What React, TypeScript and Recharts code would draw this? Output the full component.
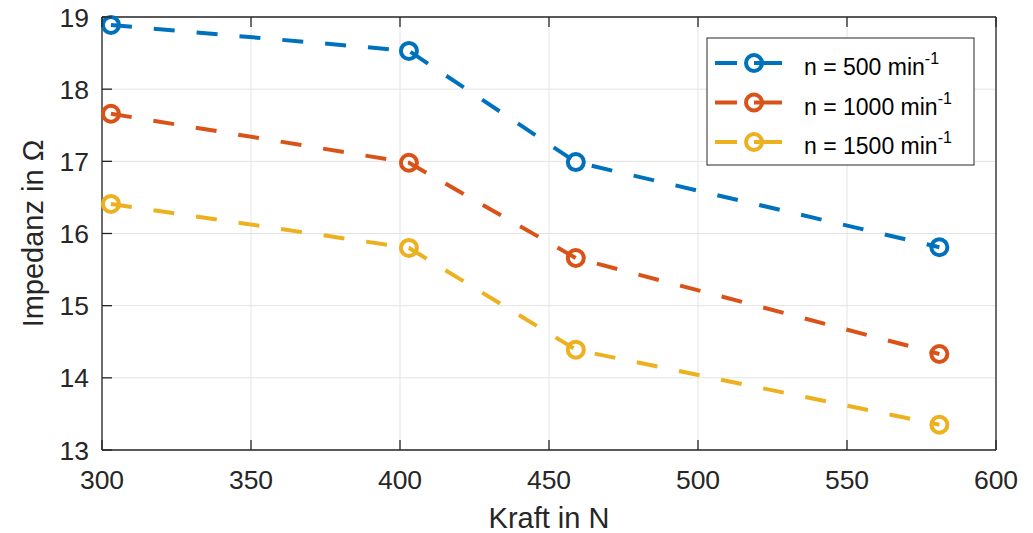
import React from "react";
import { LineChart, Line, XAxis, YAxis, CartesianGrid } from "recharts";

const force = [303, 403, 459, 581];
const n500 = [18.89, 18.53, 16.99, 15.81];
const n1000 = [17.66, 16.98, 15.66, 14.33];
const n1500 = [16.41, 15.8, 14.39, 13.35];

const xTicks = [300, 350, 400, 450, 500, 550, 600];
const yTicks = [13, 14, 15, 16, 17, 18, 19];

const series = [
  { key: "n500", label: "500", color: "#0072BD", values: n500 },
  { key: "n1000", label: "1000", color: "#D95319", values: n1000 },
  { key: "n1500", label: "1500", color: "#EDB120", values: n1500 },
];

const data = force.map((f, i) => ({
  f,
  n500: n500[i],
  n1000: n1000[i],
  n1500: n1500[i],
}));

const FONT = "'Liberation Sans', Arial, sans-serif";
const INK = "#262626";
const TICK_LEN = 10;

const BottomTick = ({ x, y, payload }: any) => (
  <g>
    <line x1={x} x2={x} y1={y} y2={y - TICK_LEN} stroke={INK} strokeWidth={1.3} />
    <text x={x} y={y + 39} textAnchor="middle" fontSize={26.5} fill={INK} fontFamily={FONT}>
      {payload.value}
    </text>
  </g>
);

const LeftTick = ({ x, y, payload }: any) => (
  <g>
    <line x1={x} x2={x + TICK_LEN} y1={y} y2={y} stroke={INK} strokeWidth={1.3} />
    <text x={x - 13} y={y + 9.5} textAnchor="end" fontSize={26.5} fill={INK} fontFamily={FONT}>
      {payload.value}
    </text>
  </g>
);

// top / right axes get 1px of room, so the tick starts at the frame line
const TopTick = ({ x, y }: any) => (
  <line x1={x} x2={x} y1={y} y2={y + TICK_LEN} stroke={INK} strokeWidth={1.3} />
);

const RightTick = ({ x, y }: any) => (
  <line x1={x} x2={x - TICK_LEN} y1={y} y2={y} stroke={INK} strokeWidth={1.3} />
);

const makeDot = (color: string) => (p: any) => (
  <circle
    key={`${color}-${p.index}`}
    cx={p.cx}
    cy={p.cy}
    r={8}
    fill="none"
    stroke={color}
    strokeWidth={4}
  />
);

function LegendBox() {
  return (
    <svg
      width={270}
      height={130}
      style={{ position: "absolute", left: 706, top: 37 }}
    >
      <rect x={1} y={1} width={267} height={127} fill="#fff" stroke={INK} strokeWidth={1} />
      {series.map((s, i) => {
        const cy = 26 + i * 39.5;
        return (
          <g key={s.key}>
            <line x1={9} x2={31} y1={cy} y2={cy} stroke={s.color} strokeWidth={4} />
            <line x1={48} x2={76} y1={cy} y2={cy} stroke={s.color} strokeWidth={4} />
            <circle cx={48} cy={cy} r={8} fill="none" stroke={s.color} strokeWidth={4} />
            <text x={98} y={cy + 12} fontSize={23} fill="#000" fontFamily={FONT}>
              {`n = ${s.label} min`}
              <tspan fontSize={16} dy={-11}>-1</tspan>
            </text>
          </g>
        );
      })}
    </svg>
  );
}

export default function App() {
  return (
    <div style={{ position: "fixed", left: 0, top: 0, width: 1033, height: 533, background: "#fff" }}>
      <LineChart
        width={1033}
        height={533}
        data={data}
        margin={{ top: 16, right: 36, bottom: 0, left: 0 }}
      >
        <CartesianGrid stroke="#e3e3e3" strokeWidth={1} />
        <XAxis
          dataKey="f"
          type="number"
          domain={[300, 600]}
          ticks={xTicks}
          height={83}
          tickSize={0}
          tickMargin={0}
          tickLine={false}
          tick={<BottomTick />}
          axisLine={{ stroke: INK, strokeWidth: 1.3 }}
          label={{
            content: ({ viewBox }: any) => (
              <text
                x={viewBox.x + viewBox.width / 2}
                y={viewBox.y + 78}
                textAnchor="middle"
                fontSize={29}
                fill={INK}
                fontFamily={FONT}
              >
                Kraft in N
              </text>
            ),
          }}
        />
        <XAxis
          xAxisId="top"
          orientation="top"
          dataKey="f"
          type="number"
          domain={[300, 600]}
          ticks={xTicks}
          height={1}
          tickSize={0}
          tickMargin={0}
          tickLine={false}
          tick={<TopTick />}
          axisLine={{ stroke: INK, strokeWidth: 1.3 }}
        />
        <YAxis
          type="number"
          domain={[13, 19]}
          ticks={yTicks}
          width={102}
          tickSize={0}
          tickMargin={0}
          tickLine={false}
          tick={<LeftTick />}
          axisLine={{ stroke: INK, strokeWidth: 1.3 }}
          label={{
            content: ({ viewBox }: any) => {
              const cx = 43;
              const cy = viewBox.y + viewBox.height / 2;
              return (
                <text
                  x={cx}
                  y={cy}
                  transform={`rotate(-90 ${cx} ${cy})`}
                  textAnchor="middle"
                  fontSize={29}
                  fill={INK}
                  fontFamily={FONT}
                >
                  Impedanz in Ω
                </text>
              );
            },
          }}
        />
        <YAxis
          yAxisId="right"
          orientation="right"
          type="number"
          domain={[13, 19]}
          ticks={yTicks}
          width={1}
          tickSize={0}
          tickMargin={0}
          tickLine={false}
          tick={<RightTick />}
          axisLine={{ stroke: INK, strokeWidth: 1.3 }}
        />
        {series.map((s) => (
          <Line
            key={s.key}
            type="linear"
            dataKey={s.key}
            stroke={s.color}
            strokeWidth={4}
            strokeDasharray="21 22"
            dot={makeDot(s.color)}
            activeDot={false}
            isAnimationActive={false}
          />
        ))}
      </LineChart>
      <LegendBox />
    </div>
  );
}
